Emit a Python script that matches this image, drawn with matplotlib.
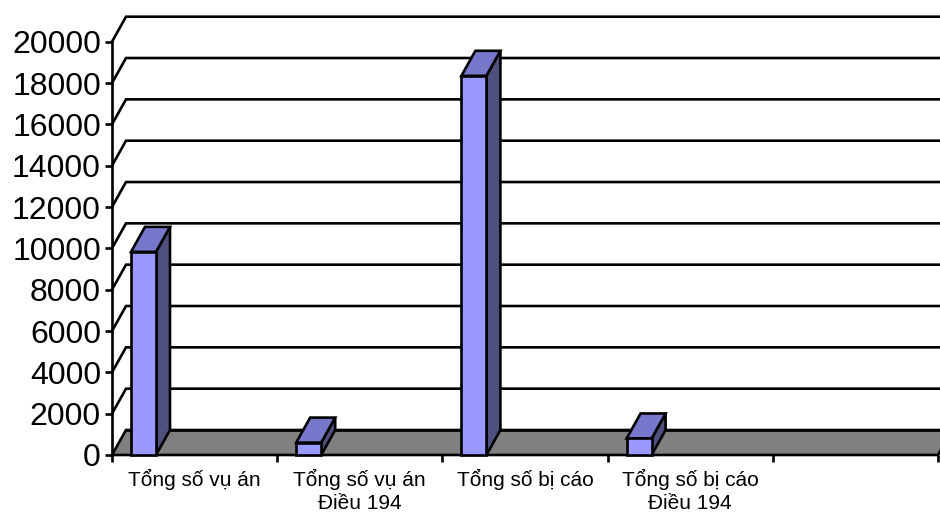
import numpy as np
import matplotlib.pyplot as plt
from matplotlib.patches import Polygon

plt.rcParams['font.family'] = ['Liberation Sans', 'DejaVu Sans']

# data
categories = ["Tổng số vụ án", "Tổng số vụ án\nĐiều 194", "Tổng số bị cáo", "Tổng số bị cáo\nĐiều 194", ""]
values = [9830, 600, 18350, 800]
yticks = list(range(0, 20001, 2000))

# colours (Excel 3D column style)
c_front = "#9999ff"
c_top = "#7777cc"
c_side = "#50507f"
c_floor = "#808080"

fig = plt.figure(figsize=(9.4, 5.15), dpi=100)
W, H = 940, 515
ax = fig.add_axes([112 / W, 60 / H, 826 / W, 413.3 / H])
n_slots = len(categories)
ax.set_xlim(0, n_slots)
ax.set_ylim(0, 20000)

# depth of the 3D box in pixels -> data units
px_x = 826 / n_slots
px_y = 413.3 / 20000
ddx = 14 / px_x
ddy = 25 / px_y

lw = 1.9
# back wall gridlines + left wall diagonals
for v in yticks[1:]:
    ax.plot([0, ddx, n_slots + ddx + 1], [v, v + ddy, v + ddy], color="black", lw=lw,
            clip_on=False, zorder=1, solid_joinstyle="miter")

# floor
floor = Polygon([[0, 0], [n_slots, 0], [n_slots + ddx, ddy], [ddx, ddy]], closed=True,
                facecolor=c_floor, edgecolor="black", lw=lw, clip_on=False, zorder=2)
ax.add_patch(floor)
ax.plot([ddx, n_slots + ddx + 1], [ddy, ddy], color="black", lw=lw, clip_on=False, zorder=2)

# bars
bar_off = 19 / px_x
bar_w = 25 / px_x
for i, v in enumerate(values):
    x0 = i + bar_off
    x1 = x0 + bar_w
    side = Polygon([[x1, 0], [x1 + ddx, ddy], [x1 + ddx, v + ddy], [x1, v]], closed=True,
                   facecolor=c_side, edgecolor="black", lw=lw, clip_on=False, zorder=3)
    top = Polygon([[x0, v], [x1, v], [x1 + ddx, v + ddy], [x0 + ddx, v + ddy]], closed=True,
                  facecolor=c_top, edgecolor="black", lw=lw, clip_on=False, zorder=3,
                  joinstyle="miter")
    ax.add_patch(side)
    ax.add_patch(top)
    ax.bar(x0, v, width=bar_w, align="edge", color=c_front, edgecolor="black", lw=lw,
           zorder=4, clip_on=False)

# axes styling
for s in ["top", "right", "bottom"]:
    ax.spines[s].set_visible(False)
ax.spines["left"].set_linewidth(lw)
ax.set_yticks(yticks)
ax.set_yticklabels([str(t) for t in yticks], fontsize=23)
ax.tick_params(axis="y", length=5, width=lw, pad=3)

ax.set_xticks(range(n_slots + 1))
ax.set_xticklabels([])
ax.set_xticks(np.arange(n_slots) + 0.5, minor=True)
ax.set_xticklabels(categories, minor=True, fontsize=15, linespacing=1.3)
ax.tick_params(axis="x", which="major", length=5, width=lw, direction="out")
ax.tick_params(axis="x", which="minor", length=0, pad=10)
ax.patch.set_visible(False)

fig.savefig("out.png", dpi=100)
